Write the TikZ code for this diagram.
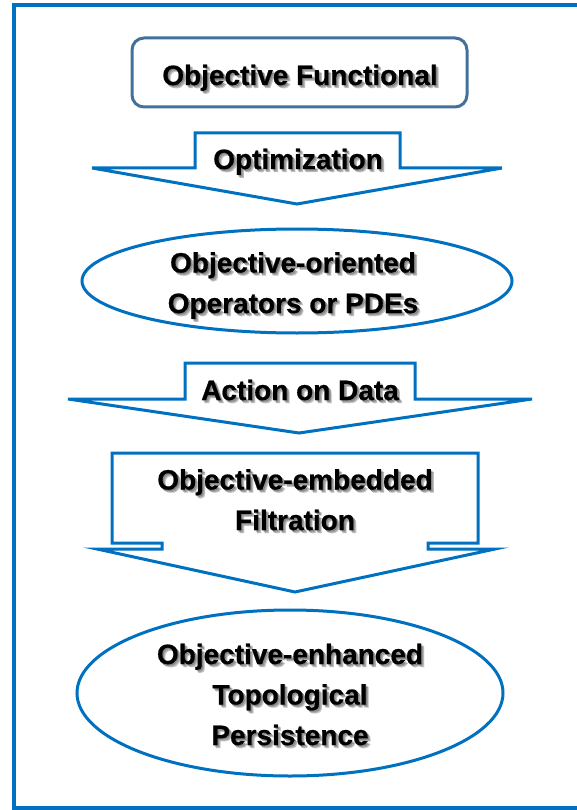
\documentclass[tikz,border=0pt]{standalone}
\usepackage{fontspec}
\setmainfont{Liberation Sans}[BoldFeatures={FakeBold=0.6}]
\definecolor{fblue}{HTML}{0070C0}
\definecolor{boxblue}{HTML}{41719C}
\newcommand{\shtext}[3]{%
  \foreach \dx/\dy in {1.2/1.2,2.2/2.2,3/3} {\node[shd] at ($(#2)+(\dx,\dy)$) {#3};}
  \node[lbl] (#1) at (#2) {#3};}
\usetikzlibrary{calc}
\begin{document}
\begin{tikzpicture}[x=1pt,y=-1pt,
  lbl/.style={font=\fontsize{28}{40.5}\selectfont\bfseries, align=center, inner sep=0pt, anchor=base},
  shd/.style={lbl, text=black, text opacity=0.18},
  blu/.style={draw=fblue, line width=3pt, line join=miter, fill=white},
]
\useasboundingbox (0,0) rectangle (576,810);
\draw[draw=fblue, line width=4pt] (14,5) rectangle (584,808);
% top box
\draw[draw=boxblue, line width=3pt, rounded corners=12pt, fill=white] (132,38) rectangle (467,107);
\shtext{objf}{300,85}{Objective Functional}
% optimization arrow
\draw[blu] (195,133) -- (400,133) -- (400,168) -- (502,168) -- (297,204) -- (92,168) -- (195,168) -- cycle;
\shtext{opt}{298,169}{Optimization}
% ellipse 1
\draw[blu] (297,281) ellipse [x radius=215, y radius=52];
\shtext{ops}{293,313}{Objective-oriented\\Operators or PDEs}
% action arrow
\draw[blu] (185,363) -- (415,363) -- (415,399) -- (532,399) -- (299,433) -- (68,399) -- (185,399) -- cycle;
\shtext{act}{300,400}{Action on Data}
% filtration arrow
\draw[blu] (112,453) -- (478,453) -- (478,543) -- (428,543) -- (428,549) -- (495,549) -- (295,592) -- (97,549) -- (162,549) -- (162,543) -- (112,543) -- cycle;
\shtext{filt}{295,530}{Objective-embedded\\Filtration}
% ellipse 2
\draw[blu] (290,693) ellipse [x radius=213, y radius=83];
\shtext{topo}{290,745}{Objective-enhanced\\Topological\\Persistence}
\end{tikzpicture}
\end{document}
